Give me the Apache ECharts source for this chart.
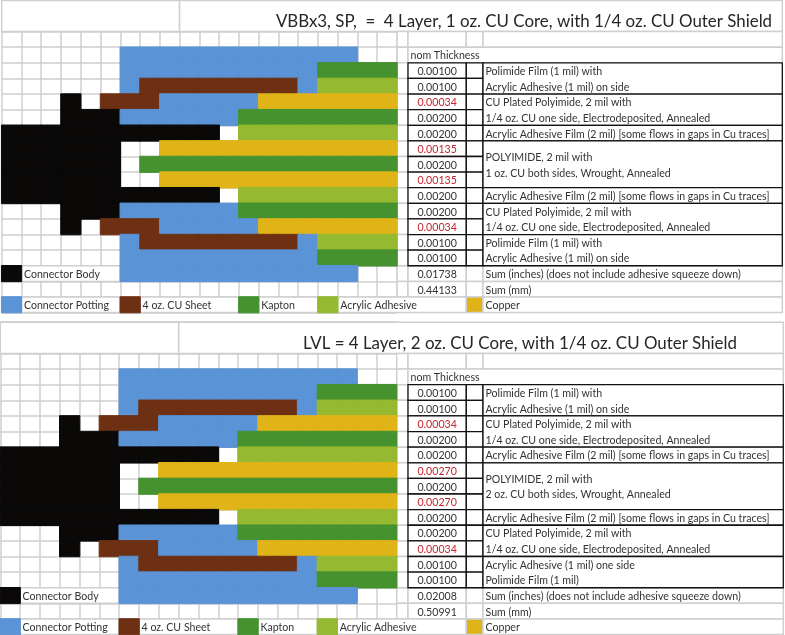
<!DOCTYPE html>
<html>
<head>
<meta charset="utf-8">
<title>Layer stackups</title>
<style>
    html, body { margin: 0; padding: 0; background: #fff; }
    #main { width: 785px; height: 635px; }
</style>
<script src="https://cdn.jsdelivr.net/npm/echarts@6/dist/echarts.min.js"></script>
</head>
<body>
<div id="main"></div>
<script>
// sheet rows, one letter per cell (shared by both stackups)
var stackRows = [
    '....................',
    '....................',
    '....................',
    '......PPPPPPPPPPPP..',
    '......PPPPPPPPPPKKKK',
    '......PSSSSSSSSPAAAA',
    '...B.SSSPPPPPCCCCCCC',
    '...BBBPPPPPPKKKKKKKK',
    'BBBBBBBBBBB.AAAAAAAA',
    'BBBBBB..CCCCCCCCCCCC',
    'BBBBBB.KKKKKKKKKKKKK',
    'BBBBBB..CCCCCCCCCCCC',
    'BBBBBBBBBBB.AAAAAAAA',
    '...BBBPPPPPPKKKKKKKK',
    '...B.SSSPPPPPCCCCCCC',
    '......PSSSSSSSSPAAAA',
    '......PPPPPPPPPPKKKK',
    'B.....PPPPPPPPPPPP..',
    '....................',
    'P.....S.....K...A...'
];

var materialColors = {
    B: '#0a0908',
    P: '#5a93d6',
    S: '#6e3013',
    K: '#45922f',
    A: '#95b930',
    C: '#e0b417'
};

var legendBody = 'Connector Body';
var legendNames = ['Connector Potting', '4 oz. CU Sheet', 'Kapton', 'Acrylic Adhesive'];
var legendCols = [0, 6, 12, 16];
var legendCopper = 'Copper';

var titleA = 'VBBx3, SP,  =  4 Layer, 1 oz. CU Core, with 1/4 oz. CU Outer Shield';
var titleB = 'LVL = 4 Layer, 2 oz. CU Core, with 1/4 oz. CU Outer Shield';

var thicknessHeader = 'nom Thickness';
var thicknessA = [0.00100, 0.00100, 0.00034, 0.00200, 0.00200, 0.00135, 0.00200, 0.00135, 0.00200, 0.00200, 0.00034, 0.00100, 0.00100];
var thicknessB = [0.00100, 0.00100, 0.00034, 0.00200, 0.00200, 0.00270, 0.00200, 0.00270, 0.00200, 0.00200, 0.00034, 0.00100, 0.00100];

var sumInchesA = 0.01738;
var sumMmA = 0.44133;
var sumInchesB = 0.02008;
var sumMmB = 0.50991;
var sumInchesLabel = 'Sum (inches) (does not include adhesive squeeze down)';
var sumMmLabel = 'Sum (mm)';

var adhesiveFilm = 'Acrylic Adhesive Film (2 mil) [some flows in gaps in Cu traces]';
var descA = [
    'Polimide Film (1 mil) with', 'Acrylic Adhesive (1 mil) on side',
    'CU Plated Polyimide, 2 mil with', '1/4 oz. CU one side, Electrodeposited, Annealed',
    adhesiveFilm,
    'POLYIMIDE, 2 mil with', '1 oz. CU both sides, Wrought, Annealed',
    adhesiveFilm,
    'CU Plated Polyimide, 2 mil with', '1/4 oz. CU one side, Electrodeposited, Annealed',
    'Polimide Film (1 mil) with', 'Acrylic Adhesive (1 mil) on side'
];
var descB = [
    'Polimide Film (1 mil) with', 'Acrylic Adhesive (1 mil) on side',
    'CU Plated Polyimide, 2 mil with', '1/4 oz. CU one side, Electrodeposited, Annealed',
    adhesiveFilm,
    'POLYIMIDE, 2 mil with', '2 oz. CU both sides, Wrought, Annealed',
    adhesiveFilm,
    'CU Plated Polyimide, 2 mil with', '1/4 oz. CU one side, Electrodeposited, Annealed',
    'Acrylic Adhesive (1 mil) one side', 'Polimide Film (1 mil)'
];
// row where each description line sits, the polyimide block is merged over 3 rows
var descRows = [4.5, 5.5, 6.5, 7.5, 8.5, 10, 11, 12.5, 13.5, 14.5, 15.5, 16.5];
var descGroups = [[4, 6], [6, 8], [8, 9], [9, 12], [12, 13], [13, 15], [15, 17]];

var GRAY = '#cfcfcf';
var FONT = 'Lato';
var TEXT = '#333333';
var RED = '#c4262e';
var ROWS = 20;

var option = {
    backgroundColor: '#fff',
    animation: false,
    title: [],
    grid: [],
    xAxis: [],
    yAxis: [],
    series: []
};

function hiddenAxis(o) {
    o.axisLine = {show: false};
    o.axisTick = {show: false};
    o.axisLabel = {show: false};
    return o;
}

function addPanel(p) {
    var gridIdx = option.grid.length;
    var colW = (p.stackRight - p.stackLeft) / 20;
    function colX(i) {
        return p.stackLeft + colW * i;
    }
    var edges = [p.stackRight, 408, 466.3, 483, p.right];

    // the cell grid and the coloured cells
    option.grid.push({left: p.stackLeft, top: p.top, width: p.stackRight - p.stackLeft, height: p.height});
    option.xAxis.push(hiddenAxis({
        type: 'category', gridIndex: gridIdx,
        data: stackRows[0].split('').map(function (c, i) { return i; }),
        splitLine: {show: true, interval: 0, lineStyle: {color: GRAY, width: 1.5}}
    }));
    option.yAxis.push(hiddenAxis({
        type: 'category', gridIndex: gridIdx, inverse: true,
        data: stackRows.map(function (r, i) { return i; }),
        splitLine: {show: true, interval: 0, lineStyle: {color: GRAY, width: 1.5}}
    }));

    var cells = [];
    for (var r = 0; r < stackRows.length; r++) {
        for (var c = 0; c < stackRows[r].length; c++) {
            var m = stackRows[r].charAt(c);
            if (m != '.') {
                // same colour border closes the seams between neighbours
                cells.push({value: [c, r, 1], itemStyle: {color: materialColors[m], borderColor: materialColors[m], borderWidth: 1}});
            }
        }
    }
    option.series.push({
        type: 'heatmap', xAxisIndex: gridIdx, yAxisIndex: gridIdx, z: 3, silent: true,
        progressive: 0,
        data: cells
    });

    // merged sheet cells and the table on the right, in sheet pixels/rows
    option.grid.push({left: 0, top: p.top, width: 785, height: p.height});
    option.xAxis.push(hiddenAxis({type: 'value', gridIndex: gridIdx + 1, min: 0, max: 785, splitLine: {show: false}}));
    option.yAxis.push(hiddenAxis({type: 'value', gridIndex: gridIdx + 1, min: 0, max: ROWS, inverse: true, splitLine: {show: false}}));

    var boxes = [];
    function box(x0, x1, y0, y1, stroke, fill, lw) {
        boxes.push({x0: x0, x1: x1, y0: y0, y1: y1, stroke: stroke, fill: fill || '#fff', lw: lw || 1.5});
    }
    // title row
    box(p.stackLeft, colX(9), 0, 2, GRAY);
    box(colX(9), p.right, 0, 2, GRAY);
    // blank row and sum rows
    [2, 17, 18].forEach(function (y) {
        box(edges[0], edges[1], y, y + 1, GRAY);
        box(edges[1], edges[2], y, y + 1, GRAY);
        box(edges[2], edges[3], y, y + 1, GRAY);
        box(edges[3], edges[4], y, y + 1, GRAY);
    });
    box(edges[0], edges[1], 3, 4, GRAY);
    box(edges[1], edges[4], 3, 4, GRAY);
    for (var y = 4; y < 17; y++) {
        box(edges[0], edges[1], y, y + 1, GRAY);
    }
    // legend row and connector body label
    box(colX(1), colX(6), 17, 18, GRAY);
    box(colX(1), colX(6), 19, 20, GRAY);
    box(colX(7), colX(12), 19, 20, GRAY);
    box(colX(13), colX(16), 19, 20, GRAY);
    box(colX(17), edges[2], 19, 20, GRAY);
    box(edges[2], edges[3], 19, 20, GRAY, materialColors.C);
    box(edges[3], edges[4], 19, 20, GRAY);
    // black ruled table
    for (var k = 4; k < 17; k++) {
        box(edges[1], edges[2], k, k + 1, '#111', '#fff', 1.3);
        box(edges[2], edges[3], k, k + 1, '#111', '#fff', 1.3);
    }
    descGroups.forEach(function (g) {
        box(edges[3], edges[4], g[0], g[1], '#111', '#fff', 1.3);
    });

    option.series.push({
        type: 'custom', xAxisIndex: gridIdx + 1, yAxisIndex: gridIdx + 1, z: 1, silent: true,
        clip: false,
        renderItem: function (params, api) {
            var b = boxes[params.dataIndex];
            var a = api.coord([b.x0, b.y0]);
            var e = api.coord([b.x1, b.y1]);
            return {
                type: 'rect',
                shape: {x: a[0], y: a[1], width: e[0] - a[0], height: e[1] - a[1]},
                style: {fill: b.fill, stroke: b.stroke, lineWidth: b.lw}
            };
        },
        encode: {x: [0, 2], y: [1, 3]},
        data: boxes.map(function (b) { return [b.x0, b.y0, b.x1, b.y1]; })
    });

    // all sheet text
    var texts = [];
    function txt(x, y, s, color, align) {
        texts.push({x: x, y: y, s: s, color: color || TEXT, align: align || 'left'});
    }
    var thickMid = (edges[1] + edges[2]) / 2;
    txt(edges[1] + 2.5, 3.5, thicknessHeader);
    p.thickness.forEach(function (v, i) {
        // copper layers are printed in red
        var row = stackRows[i + 4];
        var isCopper = row.charAt(row.length - 1) == 'C';
        txt(thickMid, i + 4.5, v.toFixed(5), isCopper ? RED : TEXT, 'center');
    });
    p.desc.forEach(function (s, i) {
        txt(edges[3] + 2.5, descRows[i], s);
    });
    txt(thickMid, 17.5, p.sumInches.toFixed(5), TEXT, 'center');
    txt(thickMid, 18.5, p.sumMm.toFixed(5), TEXT, 'center');
    txt(edges[3] + 2.5, 17.5, sumInchesLabel);
    txt(edges[3] + 2.5, 18.5, sumMmLabel);
    txt(colX(1) + 2.5, 17.5, legendBody);
    legendNames.forEach(function (s, i) {
        txt(colX(legendCols[i] + 1) + 2.5, 19.5, s);
    });
    txt(edges[3] + 2.5, 19.5, legendCopper);

    option.series.push({
        type: 'custom', xAxisIndex: gridIdx + 1, yAxisIndex: gridIdx + 1, z: 5, silent: true,
        clip: false,
        renderItem: function (params, api) {
            var t = texts[params.dataIndex];
            var pt = api.coord([t.x, t.y]);
            return {
                type: 'text',
                style: {
                    x: pt[0], y: pt[1] + 1, text: t.s, fill: t.color,
                    fontFamily: FONT, fontSize: 10.6,
                    align: t.align, verticalAlign: 'middle'
                }
            };
        },
        encode: {x: 0, y: 1},
        data: texts.map(function (t) { return [t.x, t.y]; })
    });

    option.title.push({
        text: p.title,
        left: p.titleCenter,
        top: p.top + 16,
        textAlign: 'center',
        textVerticalAlign: 'middle',
        textStyle: {color: '#262626', fontFamily: FONT, fontSize: 16.9, fontWeight: 'normal'}
    });
}

addPanel({
    title: titleA, titleCenter: 519, top: 0.4, height: 312.2, stackLeft: 1.7, stackRight: 397, right: 782.3,
    thickness: thicknessA, desc: descA, sumInches: sumInchesA, sumMm: sumMmA
});
addPanel({
    title: titleB, titleCenter: 515, top: 322.2, height: 312.4, stackLeft: 0.3, stackRight: 396.7, right: 783.3,
    thickness: thicknessB, desc: descB, sumInches: sumInchesB, sumMm: sumMmB
});

var chart = echarts.init(document.getElementById('main'));
chart.setOption(option);
</script>
</body>
</html>
